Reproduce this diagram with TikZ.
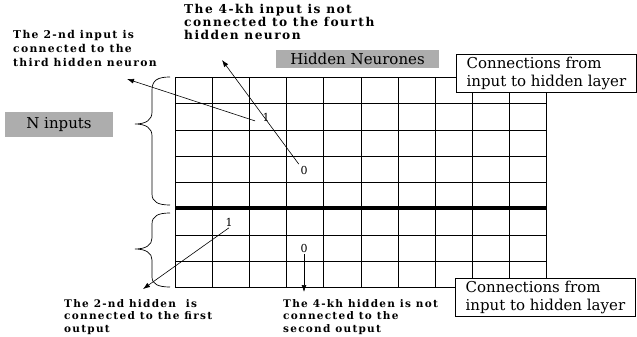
\documentclass[tikz,border=0pt]{standalone}
\usepackage{fontspec}
\setmainfont{DejaVu Serif}
\newfontfamily\notefont[LetterSpace=12]{DejaVu Serif}
\usetikzlibrary{arrows.meta}
\newcommand{\notesize}{\notefont\bfseries\fontsize{10.5}{12.5}\selectfont}
\newcommand{\widenotesize}{\notefont\bfseries\fontsize{10.8}{13.8}\selectfont}
\newcommand{\bignotesize}{\notefont\bfseries\fontsize{12.2}{12.8}\selectfont}
\newcommand{\boxsize}{\fontsize{15}{18}\selectfont}
\newcommand{\bitsize}{\fontsize{11}{12}\selectfont}

\begin{document}
\begin{tikzpicture}[x=1pt,y=-1pt,
  notetext/.style={anchor=north west,align=left,inner sep=0pt,font=\notesize},
  graybox/.style={fill=black!32,inner sep=0pt,font=\boxsize},
  legendbox/.style={draw,fill=white,line width=0.8pt,anchor=north west,align=left,inner sep=0pt,minimum width=180pt,minimum height=38pt,font=\boxsize},
  bitlabel/.style={inner sep=1.5pt,font=\bitsize},
  pointer/.style={line width=0.6pt,-{Latex[length=7pt,width=5pt]}}]
\useasboundingbox (0,0) rectangle (637,337);
\draw[line width=0.9pt] (175,77) -- (175,287) (212,77) -- (212,287) (249,77) -- (249,287) (286,77) -- (286,287);
\draw[line width=0.9pt] (323,77) -- (323,287) (361,77) -- (361,287) (398,77) -- (398,287) (435,77) -- (435,287);
\draw[line width=0.9pt] (472,77) -- (472,287) (509,77) -- (509,287) (546,77) -- (546,287);
\draw[line width=0.9pt] (175,77) -- (546,77) (175,103) -- (546,103) (175,130) -- (546,130) (175,156) -- (546,156);
\draw[line width=0.9pt] (175,182) -- (546,182) (175,235) -- (546,235) (175,261) -- (546,261) (175,287) -- (546,287);
\draw[line width=4pt] (175,208) -- (546,208);
\draw[line width=0.7pt] (170,77) .. controls (158,77) and (152,80) .. (152,90) -- (152,112) .. controls (152,120) and (146,124) .. (135,124) .. controls (146,124) and (152,128) .. (152,136) -- (152,194) .. controls (152,202) and (158,205) .. (170,205);
\draw[line width=0.7pt] (170,213) .. controls (158,213) and (152,216) .. (152,224) -- (152,238) .. controls (152,245) and (146,249) .. (135,249) .. controls (146,249) and (152,253) .. (152,260) -- (152,277) .. controls (152,284) and (158,287) .. (170,287);
\node[graybox,minimum width=108pt,minimum height=25pt] (ninputs) at (59,124.5) {N inputs};
\node[graybox,minimum width=163pt,minimum height=18.5pt] (hidden) at (357.5,59) {Hidden Neurones};
\node[legendbox] (toplegend) at (456,54) {Connections from\\input to hidden layer};
\node[legendbox] (botlegend) at (455,278) {Connections from\\input to hidden layer};
\node[notetext,font=\widenotesize] (inputnote) at (13,30) {The 2-nd input is\\connected to the\\third hidden neuron};
\node[notetext,font=\bignotesize] (hiddennote) at (184,4) {The 4-kh input is not\\connected to the fourth\\hidden neuron};
\node[notetext] (outputnote) at (64,299) {The 2-nd hidden\ \ is\\connected to the first\\output};
\node[notetext] (secondnote) at (283,299) {The 4-kh hidden is not\\connected to the\\second output};
\node[bitlabel] (oneup) at (266,117) {1};
\node[bitlabel] (zeroup) at (304,170) {0};
\node[bitlabel] (onedown) at (229,222) {1};
\node[bitlabel] (zerodown) at (304,248) {0};
\coordinate (inTip) at (127,79);
\coordinate (hidTip) at (222,60);
\coordinate (outTip) at (143,289);
\coordinate (secTip) at (304,292);
\draw[pointer,shorten <=6pt] (oneup.south west) -- (inTip);
\draw[pointer] (zeroup.north west) -- (hidTip);
\draw[pointer] (onedown.south) -- (outTip);
\draw[pointer] (zerodown.south) -- (secTip);
\end{tikzpicture}
\end{document}
